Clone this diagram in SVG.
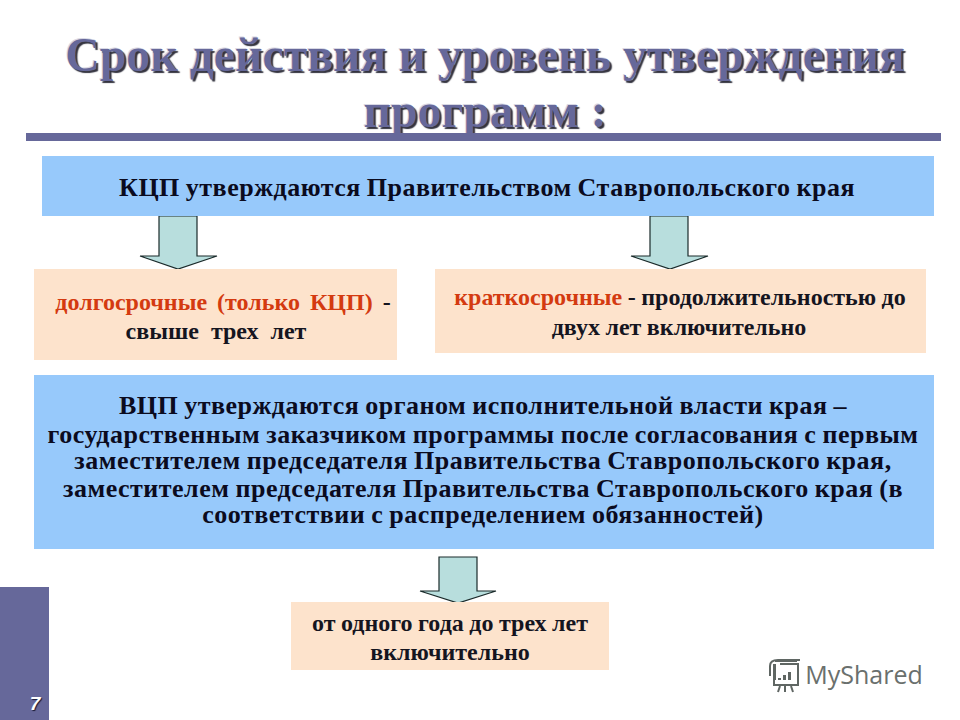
<svg xmlns="http://www.w3.org/2000/svg" width="960" height="720" viewBox="0 0 960 720">
<style>
text{font-family:"Liberation Serif","Times New Roman",serif;font-weight:bold;text-anchor:middle}
.t{font-size:26px;letter-spacing:.5px;word-spacing:-1px;fill:#0b0b1e}
.s{font-size:24px;word-spacing:-.5px;fill:#15151f}
.title{font-size:47.8px;fill:#66689a;text-shadow:2px 2px 1px #33333f,-1px -1px 0 #d8d8e4}
.o{fill:#d43a10}
.blue{fill:#97c9fb}
.peach{fill:#fde3cc}
.arr{fill:#b8dedd;stroke:#1a2a2a;stroke-width:1.2}
</style>
<rect width="960" height="720" fill="#fff"/>
<g id="title">
<text class="title" x="485" y="71">Срок действия и уровень утверждения</text>
<text class="title" x="485" y="127">программ :</text>
<rect x="26" y="133" width="915" height="8" fill="#66689a"/>
</g>
<g id="sidebar">
<rect x="0" y="587" width="49" height="133" fill="#66689a"/>
<text x="35" y="710" style="font-family:'Liberation Sans',sans-serif;font-size:19px;font-style:italic;fill:#fff;text-shadow:1px 1px 1px #1a1a33">7</text>
</g>
<g id="connectors">
<path class="arr" d="M159 216H197V256H217L178 269L140 256H159Z"/>
<path class="arr" d="M650 216H688V256H708L670 269L631 256H650Z"/>
<path class="arr" d="M439 557H477V591H496L458 603L420 591H439Z"/>
</g>
<g id="kcp">
<rect class="blue" x="42" y="156" width="892" height="60"/>
<text class="t" x="487" y="196">КЦП утверждаются Правительством Ставропольского края</text>
</g>
<g id="long">
<rect class="peach" x="34" y="269" width="363" height="91"/>
<text class="s" x="223" y="310" style="word-spacing:4px"><tspan class="o">долгосрочные (только КЦП)</tspan> -</text>
<text class="s" x="216" y="339" style="word-spacing:6px">свыше трех лет</text>
</g>
<g id="short">
<rect class="peach" x="435" y="269" width="491" height="84"/>
<text class="s" x="680" y="305"><tspan class="o">краткосрочные</tspan> - продолжительностью до</text>
<text class="s" x="679" y="335">двух лет включительно</text>
</g>
<g id="vcp">
<rect class="blue" x="34" y="375" width="900" height="174"/>
<text class="t" x="483" y="414">ВЦП утверждаются органом исполнительной власти края –</text>
<text class="t" x="483" y="443">государственным заказчиком программы после согласования с первым</text>
<text class="t" x="483" y="469">заместителем председателя Правительства Ставропольского края,</text>
<text class="t" x="483" y="497">заместителем председателя Правительства Ставропольского края (в</text>
<text class="t" x="483" y="523">соответствии с распределением обязанностей)</text>
</g>
<g id="term">
<rect class="peach" x="291" y="602" width="318" height="68"/>
<text class="s" x="450" y="631">от одного года до трех лет</text>
<text class="s" x="450" y="660">включительно</text>
</g>
<g id="watermark">
<g fill="none" stroke="#5f6663" stroke-width="2">
<path d="M775 664V680M775 661H797M800 660H778Q770 660 770 666V676M780 664H798V685H774V664M777 685H797"/>
<path d="M778 692L780 686M785 692V686M793 692L791 686"/>
</g>
<path d="M778 680h3v-2h-3zM783 680h3v-5h-3zM788 680h3v-8h-3z" fill="#5f6663"/>
<text x="864" y="684" style="font-family:'Open Sans',sans-serif;font-weight:400;font-size:25px" fill="#6a706d">MyShared</text>
</g>
</svg>
